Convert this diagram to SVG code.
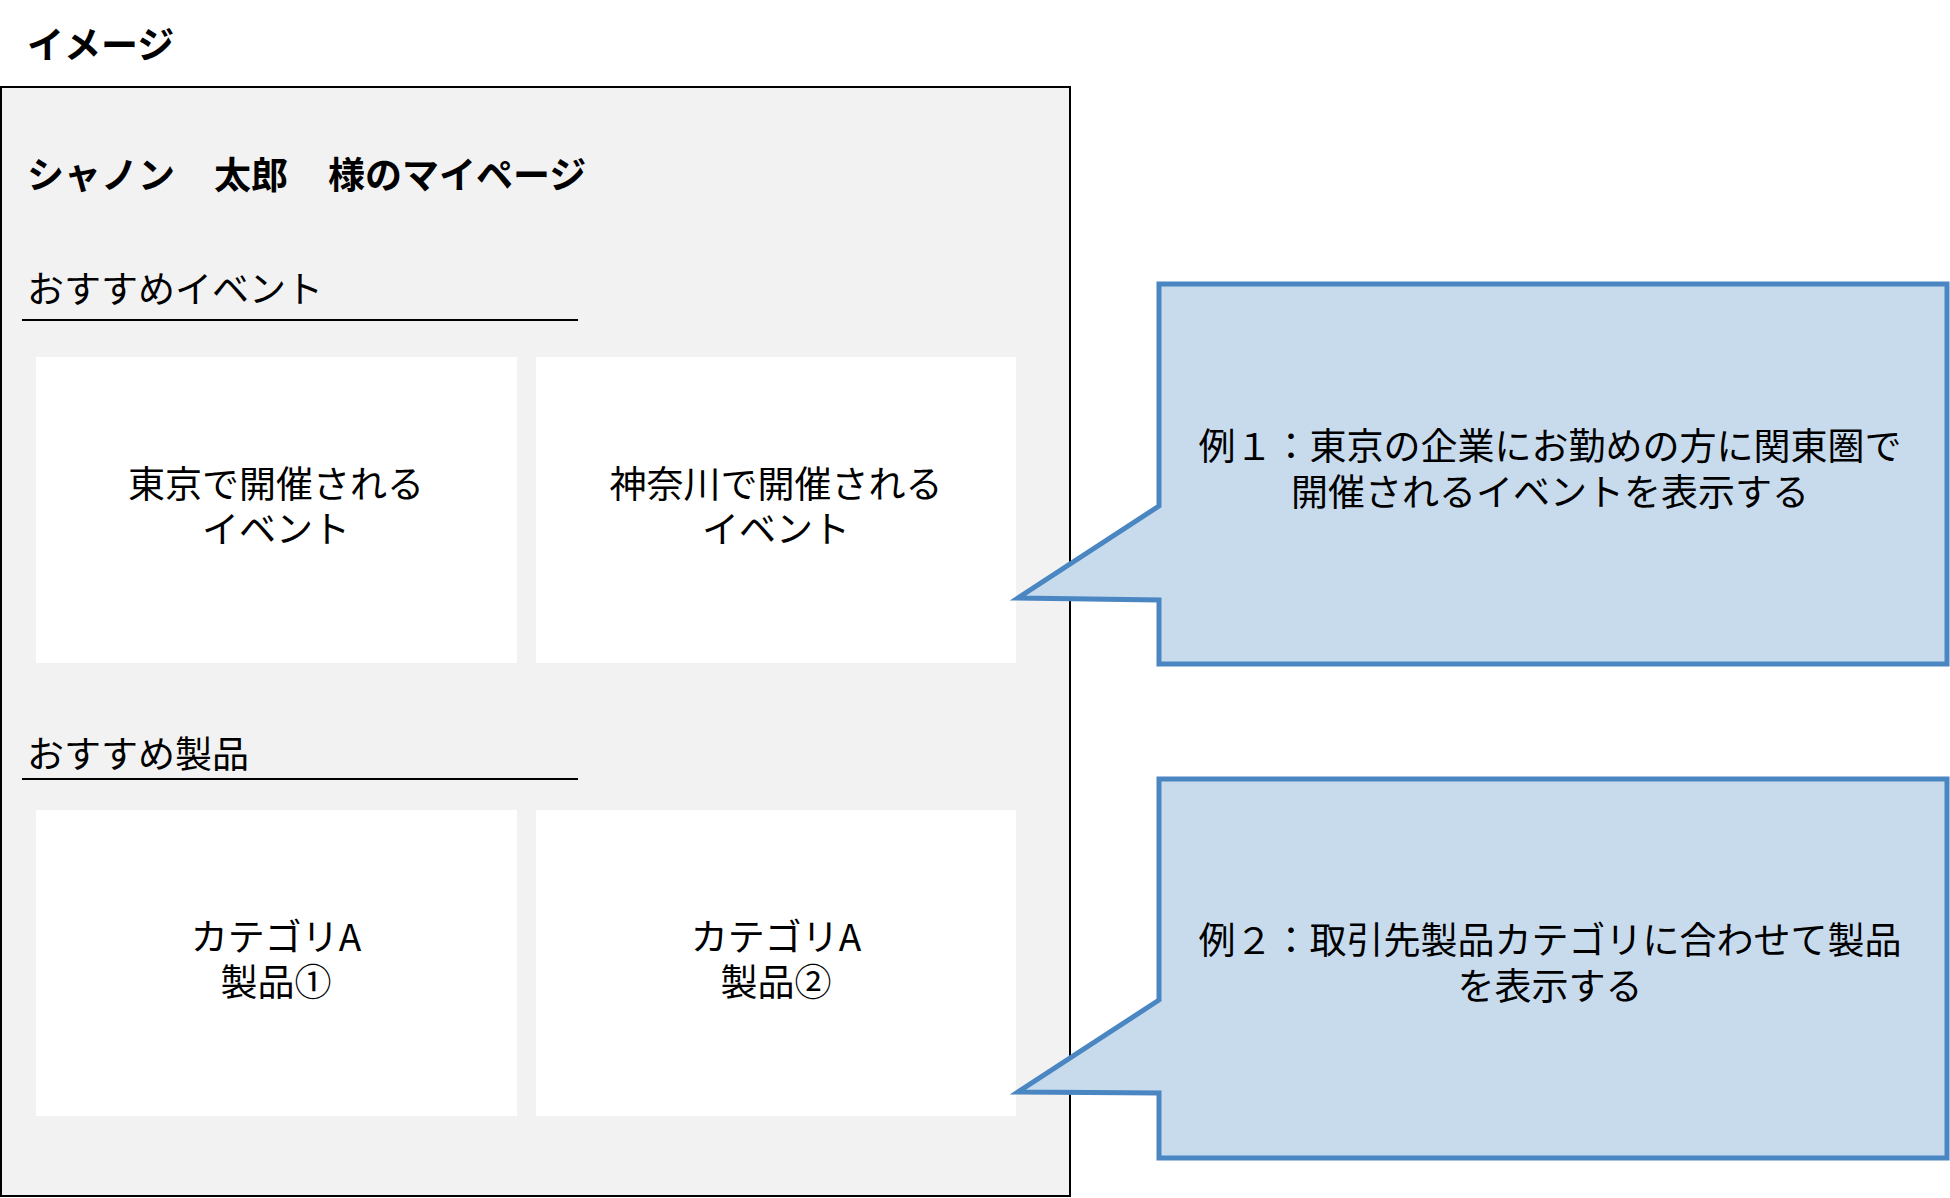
<svg xmlns="http://www.w3.org/2000/svg" width="1950" height="1198" viewBox="0 0 1950 1198">
<style>
text{font-family:"Noto Sans CJK JP","Noto Sans",sans-serif;fill:#000;font-size:37px}
.b{font-weight:bold;font-size:37px}
.c{text-anchor:middle}
.card{fill:#fff}
.call{fill:#c8dbed;stroke:#4a86c1;stroke-width:5;stroke-linejoin:miter}
.ul{stroke:#000;stroke-width:2}
</style>
<g id="title"><text class="b" x="27" y="59">イメージ</text></g>
<g id="page">
<rect x="1" y="87" width="1069" height="1109" fill="#f2f2f2" stroke="#000" stroke-width="2"/>
<text class="b" y="189"><tspan x="27">シャノン</tspan><tspan x="214">太郎</tspan><tspan x="328">様のマイページ</tspan></text>
</g>
<g id="events-header">
<text x="27" y="303">おすすめイベント</text>
<line class="ul" x1="22" y1="320" x2="578" y2="320"/>
</g>
<g id="event-tokyo">
<rect class="card" x="36" y="357" width="481" height="306"/>
<text class="c" y="498"><tspan x="276">東京で開催される</tspan><tspan x="276" dy="45">イベント</tspan></text>
</g>
<g id="event-kanagawa">
<rect class="card" x="536" y="357" width="480" height="306"/>
<text class="c" y="498"><tspan x="776">神奈川で開催される</tspan><tspan x="776" dy="45">イベント</tspan></text>
</g>
<g id="products-header">
<text x="27" y="768">おすすめ製品</text>
<line class="ul" x1="22" y1="779" x2="578" y2="779"/>
</g>
<g id="product-1">
<rect class="card" x="36" y="810" width="481" height="306"/>
<text class="c" y="951"><tspan x="276">カテゴリA</tspan><tspan x="276" dy="45">製品①</tspan></text>
</g>
<g id="product-2">
<rect class="card" x="536" y="810" width="480" height="306"/>
<text class="c" y="951"><tspan x="776">カテゴリA</tspan><tspan x="776" dy="45">製品②</tspan></text>
</g>
<g id="connectors"></g>
<g id="callout-1">
<path class="call" d="M1159,284 H1947 V664 H1159 V600 L1018,598 L1159,506 Z"/>
<text class="c" y="460"><tspan x="1550">例１：東京の企業にお勤めの方に関東圏で</tspan><tspan x="1550" dy="46">開催されるイベントを表示する</tspan></text>
</g>
<g id="callout-2">
<path class="call" d="M1159,779 H1947 V1158 H1159 V1093 L1018,1092 L1159,1000 Z"/>
<text class="c" y="954"><tspan x="1550">例２：取引先製品カテゴリに合わせて製品</tspan><tspan x="1550" dy="46">を表示する</tspan></text>
</g>
</svg>
